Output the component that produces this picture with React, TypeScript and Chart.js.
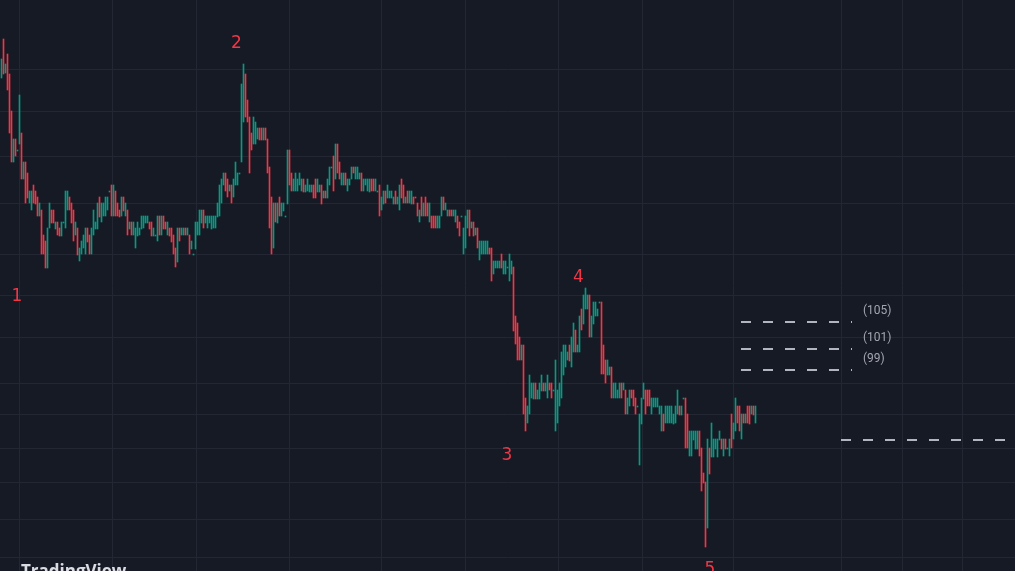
import React, { useEffect, useRef } from 'react';
import { Chart, registerables } from 'chart.js';

Chart.register(...registerables);

// ---- data (price units; bar index = time) ----
const highs: number[] = [
  54.1, 56.1, 53.6, 54.6, 52.6, 48.9, 46.1, 46.1, 45.0, 50.5,
  46.7, 43.8, 43.8, 42.7, 40.9, 40.9, 41.5, 40.9, 40.3, 39.7,
  39.0, 36.5, 35.9, 37.2, 39.7, 39.0, 39.0, 37.8, 37.8, 37.2,
  37.8, 37.8, 40.9, 40.9, 40.3, 39.7, 39.0, 37.8, 37.2, 35.2,
  35.9, 36.5, 37.2, 37.2, 36.5, 37.2, 39.0, 37.8, 39.7, 40.3,
  39.7, 39.7, 40.3, 40.3, 40.9, 41.5, 41.5, 40.9, 39.7, 39.0,
  40.3, 40.3, 39.7, 39.0, 37.8, 37.8, 37.8, 37.2, 37.8, 37.2,
  38.4, 38.4, 38.4, 38.4, 37.8, 37.8, 37.2, 36.5, 38.4, 38.4,
  38.4, 38.4, 37.8, 37.8, 37.2, 37.2, 36.5, 35.2, 37.2, 37.2,
  37.2, 37.2, 37.2, 37.2, 36.5, 35.9, 34.6, 37.8, 37.8, 39.0,
  39.0, 39.0, 38.4, 38.4, 38.4, 38.4, 38.4, 38.4, 39.7, 41.5,
  42.1, 42.7, 42.7, 42.1, 41.5, 41.5, 42.1, 43.8, 42.7, 42.7,
  51.6, 53.6, 52.6, 50.0, 48.3, 46.7, 48.3, 47.8, 47.2, 47.2,
  47.2, 47.2, 47.2, 46.1, 43.3, 40.3, 39.7, 39.7, 39.7, 40.3,
  39.7, 39.7, 38.4, 45.0, 45.0, 42.7, 42.1, 42.7, 42.1, 42.7,
  42.1, 42.1, 41.5, 42.1, 41.5, 41.5, 41.5, 42.1, 42.1, 41.5,
  41.5, 40.9, 40.9, 42.1, 43.3, 43.3, 44.4, 45.6, 45.6, 43.8,
  42.7, 42.7, 42.7, 42.1, 42.1, 43.3, 43.3, 43.3, 43.3, 42.7,
  42.7, 42.1, 42.1, 42.1, 42.1, 42.1, 42.1, 42.1, 40.9, 41.5,
  40.3, 40.9, 40.9, 41.5, 40.9, 40.9, 40.3, 40.9, 40.3, 41.5,
  42.1, 41.5, 40.3, 40.9, 40.9, 40.9, 40.3, 40.3, 39.7, 39.0,
  40.3, 39.7, 40.3, 39.7, 39.7, 38.4, 38.4, 38.4, 38.4, 38.4,
  40.3, 40.3, 39.7, 39.0, 39.0, 39.0, 39.0, 39.0, 38.4, 37.8,
  38.4, 37.2, 38.4, 39.0, 39.0, 37.8, 37.8, 37.2, 37.2, 35.9,
  35.9, 35.9, 35.9, 35.9, 35.2, 35.2, 33.9, 33.9, 33.9, 33.9,
  34.6, 33.9, 33.9, 33.3, 34.6, 33.9, 33.3, 28.4, 27.7, 26.3,
  25.5, 25.5, 20.2, 19.4, 22.5, 21.7, 21.7, 21.7, 21.0, 21.7,
  22.5, 21.7, 21.7, 22.5, 21.7, 21.7, 21.0, 24.0, 21.0, 21.7,
  24.8, 25.5, 25.5, 24.8, 25.5, 26.3, 27.7, 27.0, 25.5, 28.4,
  29.1, 30.5, 31.2, 30.5, 30.5, 28.4, 29.8, 29.8, 29.1, 29.8,
  29.8, 25.5, 24.0, 24.0, 23.3, 23.3, 21.7, 21.7, 21.0, 21.7,
  21.7, 21.7, 21.0, 20.2, 21.0, 21.0, 21.0, 20.2, 19.4, 18.6,
  20.2, 21.7, 21.0, 21.0, 21.0, 20.2, 20.2, 20.2, 20.2, 19.4,
  19.4, 18.6, 19.4, 19.4, 19.4, 19.4, 18.6, 19.4, 21.0, 19.4,
  19.4, 20.2, 20.2, 18.6, 16.9, 16.9, 16.9, 16.9, 16.9, 16.9,
  15.2, 12.7, 11.8, 16.1, 15.2, 17.7, 16.1, 16.1, 16.1, 16.9,
  16.1, 16.1, 16.1, 15.2, 16.1, 18.6, 17.7, 20.2, 19.4, 19.4,
  18.6, 18.6, 18.6, 19.4, 19.4, 19.4, 19.4, 19.4,
];

const lows: number[] = [
  52.2, 52.6, 52.7, 51.0, 46.7, 43.8, 43.8, 44.4, 44.9, 45.6,
  42.1, 42.1, 39.7, 40.2, 39.7, 39.0, 39.7, 39.6, 38.4, 38.4,
  34.6, 34.6, 33.2, 33.2, 37.2, 37.7, 37.7, 37.1, 36.5, 36.4,
  36.4, 37.7, 37.2, 39.0, 39.0, 37.7, 35.9, 36.5, 34.5, 33.9,
  34.6, 35.2, 34.6, 35.8, 34.6, 34.6, 36.5, 37.1, 37.1, 38.3,
  37.8, 38.4, 38.4, 39.0, 40.8, 38.4, 38.4, 38.4, 38.4, 38.3,
  38.4, 38.9, 38.4, 36.5, 37.1, 36.5, 36.5, 35.2, 36.4, 36.5,
  37.1, 37.2, 37.7, 37.7, 37.1, 36.4, 36.4, 36.4, 35.9, 36.5,
  36.5, 37.1, 37.1, 36.5, 36.4, 35.8, 34.6, 33.3, 33.8, 35.9,
  36.5, 36.5, 36.5, 36.5, 34.6, 35.1, 34.5, 35.1, 36.5, 36.5,
  37.7, 37.2, 37.7, 37.2, 37.7, 37.1, 37.2, 37.2, 38.3, 38.4,
  39.7, 41.5, 40.9, 40.3, 40.9, 39.7, 40.3, 41.5, 41.5, 42.6,
  43.8, 47.8, 48.3, 47.8, 42.7, 45.0, 45.6, 45.6, 46.1, 46.0,
  46.0, 46.0, 46.0, 42.7, 37.2, 34.6, 35.2, 37.8, 37.7, 38.4,
  38.4, 38.9, 38.3, 39.6, 41.5, 40.9, 40.9, 40.9, 40.9, 41.5,
  40.9, 40.8, 40.8, 40.9, 40.8, 40.8, 40.2, 40.2, 40.8, 40.8,
  39.6, 40.2, 40.2, 40.2, 41.5, 43.2, 40.9, 42.1, 42.7, 42.1,
  41.5, 41.5, 41.5, 40.9, 41.5, 42.1, 42.7, 42.1, 42.1, 42.1,
  40.9, 40.9, 41.5, 40.9, 40.8, 40.9, 40.9, 40.9, 40.8, 38.4,
  39.0, 39.6, 39.7, 40.2, 40.2, 40.2, 39.6, 39.6, 39.6, 39.0,
  40.2, 39.7, 39.7, 39.7, 39.7, 39.6, 39.6, 40.2, 38.4, 37.8,
  38.4, 38.4, 38.4, 38.4, 37.8, 37.2, 37.2, 37.2, 37.2, 37.2,
  38.4, 39.0, 39.0, 38.4, 38.4, 38.4, 38.4, 37.8, 37.2, 36.4,
  38.3, 34.6, 35.2, 37.2, 36.4, 37.2, 36.4, 36.5, 35.2, 34.0,
  34.6, 34.6, 34.6, 34.6, 34.6, 31.9, 32.6, 33.2, 33.2, 33.2,
  33.2, 32.6, 32.6, 33.2, 31.9, 32.6, 26.9, 25.6, 24.0, 24.0,
  24.0, 18.6, 16.9, 17.7, 18.6, 20.2, 20.1, 20.1, 20.1, 20.1,
  20.9, 20.9, 20.9, 20.2, 21.0, 20.2, 20.9, 16.9, 17.7, 19.4,
  20.2, 22.5, 23.3, 24.0, 23.9, 23.3, 24.8, 24.8, 24.8, 24.8,
  27.0, 27.6, 29.1, 29.1, 26.3, 26.3, 27.6, 28.4, 28.4, 29.7,
  22.6, 22.6, 21.7, 22.5, 22.5, 20.2, 20.2, 20.2, 20.2, 20.2,
  20.2, 21.0, 18.6, 18.6, 19.4, 20.2, 19.4, 18.6, 19.3, 13.5,
  17.6, 20.1, 18.6, 19.4, 19.4, 18.6, 19.3, 19.3, 19.3, 18.6,
  16.9, 16.9, 17.7, 17.7, 17.7, 17.7, 17.6, 17.7, 18.6, 18.5,
  18.5, 20.1, 15.2, 15.2, 14.4, 14.4, 16.0, 15.1, 15.1, 14.4,
  10.9, 11.7, 5.3, 7.2, 12.6, 14.3, 14.3, 15.1, 14.3, 16.0,
  15.1, 14.4, 15.1, 15.1, 14.4, 15.2, 16.1, 16.9, 17.7, 16.9,
  16.1, 17.7, 17.7, 17.7, 17.6, 18.6, 18.5, 17.7,
];

// g = up bar, r = down bar
const barDirections: string = [
  'grgrrrgrgg', 'rgrrggrrrg', 'rrrggrrgrr', 'ggggrrrgrg', 'gggrrggggr',
  'gggggrgrrr', 'grgrgrgggg', 'ggggrrgggr', 'grrgrrrrgr', 'ggrgrggggg',
  'grgggggggg', 'ggrrgrgggg', 'ggrrrrgggr', 'rgrrrrgrgr', 'ggggrrgggg',
  'grggggrrgg', 'rgrgggrgrr', 'ggrgggrggg', 'rggggrrggr', 'ggrggggrgg',
  'rrgrggrrrg', 'rgrrgrrrgg', 'grggrrggrr', 'ggggrgrgrg', 'ggggrrgggg',
  'rgggggrrrr', 'grrggggrgg', 'grggrrgggg', 'ggggrggrgg', 'rgggrggggg',
  'rrrggrgggg', 'rgrggrrrgg', 'ggrrrggggg', 'grgggggggr', 'ggrrgggggr',
  'rrrgrggggg', 'rgrggrggrr', 'grgrrgrg',
].join('');

// grid positions (time grid in bar index units, price grid in price units)
const gridBarIndex = [9, 55.5, 97.5, 144, 190, 232, 278.5, 320.5, 366, 420, 450.5, 480.5];
const gridPrices = [53.05, 48.85, 44.35, 39.65, 34.55, 30.45, 26.25, 21.65, 18.55, 15.15, 11.75, 8.05, 4.25];

// Elliott wave labels
const waveLabels = ['1', '2', '3', '4', '5'];
const waveBarIndex = [7.75, 117.5, 252.75, 288.5, 354.25];
const wavePrices = [30.3, 55.6, 14.4, 32.25, 3.0];

// projection levels
const levelLabels = ['(105)', '(101)', '(99)'];
const levelPrices = [27.8, 25.1, 23.0];
const levelStartIndex = 369.75;
const levelEndIndex = 425.25;
const targetPrice = 16.0;
const targetStartIndex = 419.75;

const X_MIN = -0.75;
const X_MAX = 506.75;
const Y_MIN = 2.9;
const Y_MAX = 60.0;

const BG = '#161a25';
const GRID = '#232734';
const UP = '#089981';
const DOWN = '#f23645';
const LEVEL = '#b2b5be';

export default function App() {
  const ref = useRef<HTMLCanvasElement | null>(null);

  useEffect(() => {
    document.body.style.margin = '0';
    document.body.style.background = BG;
    const canvas = ref.current;
    if (!canvas) return;

    const bars = highs.map((h, i) => ({ x: i, y: [lows[i], h] }));
    const barColors = highs.map((_, i) => (barDirections[i] === 'g' ? UP : DOWN));

    const levelSets = levelPrices.map((p) => ({
      type: 'line' as const,
      data: [
        { x: levelStartIndex, y: p },
        { x: levelEndIndex, y: p },
      ],
      borderColor: LEVEL,
      borderWidth: 2,
      borderDash: [10, 12],
      pointRadius: 0,
      fill: false,
    }));
    const targetSet = {
      type: 'line' as const,
      data: [
        { x: targetStartIndex, y: targetPrice },
        { x: X_MAX + 2, y: targetPrice },
      ],
      borderColor: LEVEL,
      borderWidth: 2,
      borderDash: [10, 12],
      pointRadius: 0,
      fill: false,
    };

    const bgPlugin = {
      id: 'bg',
      beforeDraw(chart: any) {
        const c = chart.ctx;
        c.save();
        c.fillStyle = BG;
        c.fillRect(0, 0, chart.width, chart.height);
        c.restore();
      },
    };

    const textPlugin = {
      id: 'texts',
      afterDatasetsDraw(chart: any) {
        const c = chart.ctx;
        const xs = chart.scales.x;
        const ys = chart.scales.y;
        c.save();
        // wave labels
        c.font = '17px "DejaVu Sans", sans-serif';
        c.fillStyle = DOWN;
        c.textAlign = 'center';
        c.textBaseline = 'middle';
        waveLabels.forEach((t, i) => {
          c.fillText(t, xs.getPixelForValue(waveBarIndex[i]), ys.getPixelForValue(wavePrices[i]));
        });
        // level labels
        c.font = '12px Roboto, sans-serif';
        c.fillStyle = '#a3a6af';
        c.textAlign = 'left';
        c.textBaseline = 'middle';
        levelLabels.forEach((t, i) => {
          c.fillText(t, xs.getPixelForValue(levelEndIndex) + 11, ys.getPixelForValue(levelPrices[i]) - 11.5);
        });
        // watermark
        c.font = 'bold 17px "Open Sans", sans-serif';
        c.fillStyle = 'rgba(235,237,242,0.92)';
        c.textAlign = 'left';
        c.textBaseline = 'alphabetic';
        c.fillText('TradingView', 21, 577);
        c.restore();
      },
    };

    const chart = new Chart(canvas, {
      type: 'bar',
      data: {
        datasets: [
          {
            type: 'bar',
            data: bars as any,
            backgroundColor: barColors,
            borderWidth: 0,
            barThickness: 1,
          } as any,
          ...levelSets,
          targetSet,
        ],
      },
      options: {
        responsive: false,
        animation: false,
        devicePixelRatio: 1,
        events: [],
        layout: { padding: 0 },
        plugins: {
          legend: { display: false },
          tooltip: { enabled: false },
          title: { display: false },
        },
        scales: {
          x: {
            type: 'linear',
            offset: false,
            min: X_MIN,
            max: X_MAX,
            afterBuildTicks: (s: any) => {
              s.ticks = gridBarIndex.map((v) => ({ value: v }));
            },
            ticks: { display: false },
            grid: { color: GRID, lineWidth: 1, drawTicks: false, offset: false },
            border: { display: false },
          },
          y: {
            type: 'linear',
            min: Y_MIN,
            max: Y_MAX,
            afterBuildTicks: (s: any) => {
              s.ticks = gridPrices.map((v) => ({ value: v }));
            },
            ticks: { display: false },
            grid: { color: GRID, lineWidth: 1, drawTicks: false },
            border: { display: false },
          },
        },
      },
      plugins: [bgPlugin, textPlugin],
    } as any);

    return () => chart.destroy();
  }, []);

  return (
    <div style={{ position: 'absolute', left: 0, top: 0, width: 1015, height: 571, overflow: 'hidden' }}>
      <canvas ref={ref} width={1015} height={571} style={{ display: 'block' }} />
    </div>
  );
}
